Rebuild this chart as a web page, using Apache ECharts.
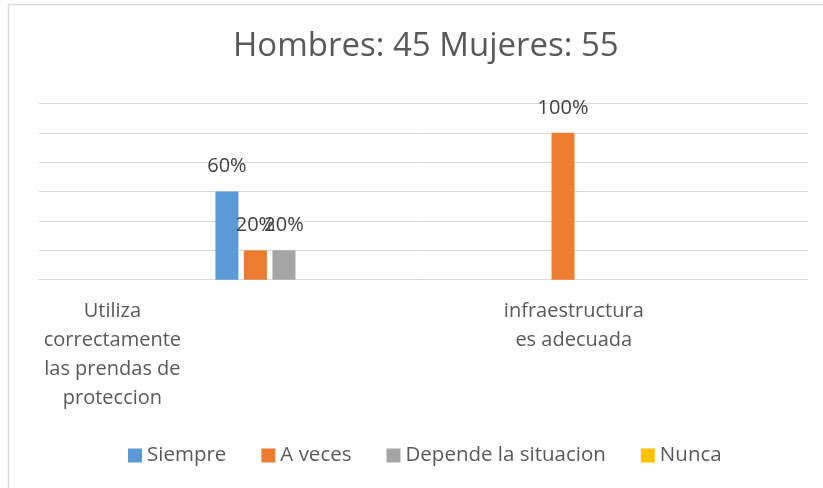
<!DOCTYPE html>
<html>
<head>
<meta charset="utf-8">
<title>Hombres: 45 Mujeres: 55</title>
<script src="https://cdn.jsdelivr.net/npm/echarts@6/dist/echarts.min.js"></script>
<style>
	html,body{margin:0;padding:0;background:#fff;}
	#chart{width:823px;height:488px;}
</style>
</head>
<body>
<div id="chart"></div>
<script>
// categorias (las vacias son huecos del grafico original)
var categories = ["Utiliza\ncorrectamente\nlas prendas de\nproteccion", "", "", "infraestructura\nes adecuada", ""];
var seriesNames = ["Siempre", "A veces", "Depende la situacion", "Nunca"];
var siempre = [null, 0.6, null, null, null];
var aVeces = [null, 0.2, null, 1.0, null];
var depende = [null, 0.2, null, null, null];
var nunca = [null, null, null, null, null];
var colors = ["#5b9bd5", "#ed7d31", "#a5a5a5", "#ffc000"];

var FONT = "Open Sans";

function makeSeries(name, data){
	return {
		name: name,
		type: "bar",
		data: data,
		barWidth: 23,
		barGap: "24%",
		label: {
			show: true,
			position: "top",
			distance: 15,
			color: "#404040",
			fontFamily: FONT,
			fontSize: 20,
			formatter: function(p){
				return Math.round(p.value * 100) + "%";
			}
		}
	};
}

var myChart = echarts.init(document.getElementById("chart"));
var option = {
	backgroundColor: "#fff",
	color: colors,
	animation: false,
	title: {
		text: "Hombres: 45 Mujeres: 55",
		left: 233,
		top: 30,
		padding: 0,
		textStyle: {
			fontFamily: FONT,
			fontSize: 33,
			fontWeight: "normal",
			color: "#595959"
		}
	},
	legend: {
		data: seriesNames,
		left: 128,
		top: 445,
		padding: 0,
		icon: "rect",
		itemWidth: 14,
		itemHeight: 14,
		itemGap: 35,
		textStyle: {
			fontFamily: FONT,
			fontSize: 20.5,
			color: "#595959"
		}
	},
	grid: {
		left: 39,
		right: 15,
		top: 103.5,
		bottom: 208.3
	},
	xAxis: {
		type: "category",
		data: categories,
		axisLine: {lineStyle: {color: "#d9d9d9", width: 1}},
		axisTick: {show: false},
		axisLabel: {
			interval: 0,
			margin: 17,
			padding: [0, 7, 0, 0],
			fontFamily: FONT,
			fontSize: 20,
			lineHeight: 29,
			color: "#595959"
		}
	},
	yAxis: {
		type: "value",
		min: 0,
		max: 1.2,
		interval: 0.2,
		axisLabel: {show: false},
		axisLine: {show: false},
		axisTick: {show: false},
		splitLine: {lineStyle: {color: "#d9d9d9", width: 1}}
	},
	// borde del area del grafico
	graphic: [{
		type: "rect",
		shape: {x: 8.5, y: 4.5, width: 840, height: 500},
		style: {fill: null, stroke: "#d9d9d9", lineWidth: 1.5},
		silent: true
	}],
	series: [
		makeSeries(seriesNames[0], siempre),
		makeSeries(seriesNames[1], aVeces),
		makeSeries(seriesNames[2], depende),
		makeSeries(seriesNames[3], nunca)
	]
};
myChart.setOption(option);
</script>
</body>
</html>
